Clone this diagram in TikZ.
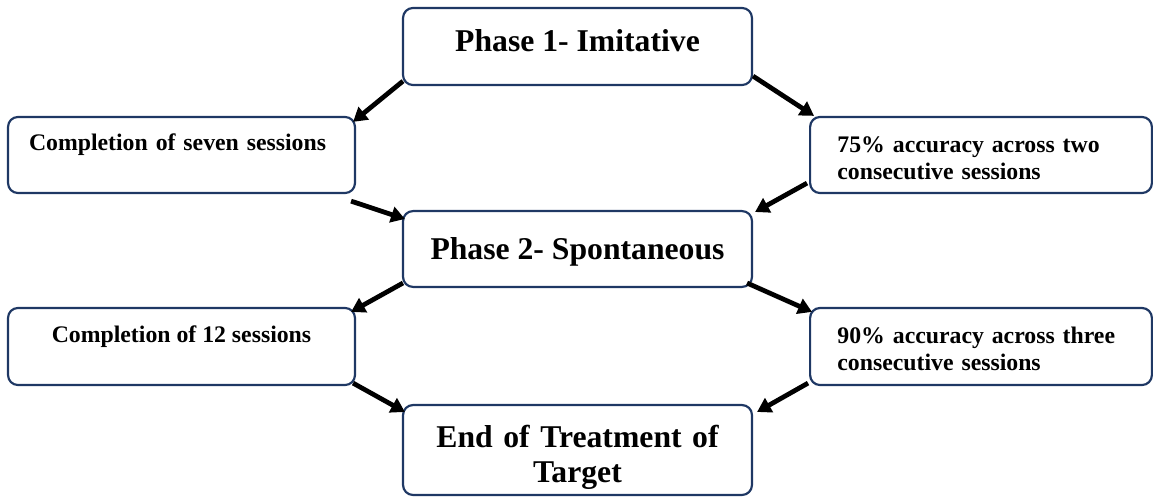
\documentclass[tikz,border=0pt]{standalone}
\usepackage{fontspec}
\setmainfont{Liberation Serif}
\usepackage{tikz}
\usetikzlibrary{calc}
\usetikzlibrary{arrows.meta}
\definecolor{navyline}{HTML}{1F3864}

\newcommand{\bigbf}{\fontsize{16}{17.7}\selectfont\bfseries}
\newcommand{\smallbf}{\fontsize{12}{14}\selectfont\bfseries}

\begin{document}
\begin{tikzpicture}[x=0.505pt,y=-0.505pt,
    boxn/.style={draw=navyline,line width=1.1pt,rounded corners=5pt,inner sep=0pt},
    phasen/.style={boxn,minimum width=176.2pt,font=\bigbf},
    critn/.style={boxn,minimum width=175.2pt,font=\smallbf},
    accn/.style={boxn,text width=145pt,inner xsep=13.8pt,align=left,font=\smallbf},
    stepa/.style={-{Triangle[length=7pt,width=8pt]},line width=2.4pt,black}]
  \useasboundingbox (0,0) rectangle (1155,497);
  % phases
  \node[phasen,text height=22.2pt,text depth=16.7pt] (ph1) at (577.5,46.5) {Phase 1- Imitative};
  \node[phasen,text height=24.7pt,text depth=13.6pt] (ph2) at (577.5,249) {Phase 2- Spontaneous};
  \node[phasen,text width=176.2pt,align=center,text height=21.2pt,text depth=24.2pt]
    (end) at (577.5,450) {End of Treatment of\\Target};
  % criteria
  \node[critn,text width=154pt,inner xsep=10.6pt,align=left,text height=16.7pt,text depth=21.7pt]
    (c7) at (181.5,155) {Completion of seven sessions};
  \node[critn,text height=17.2pt,text depth=21.7pt] (c12) at (181.5,346.5) {Completion of 12 sessions};
  \node[accn,text height=17.7pt,text depth=20.7pt] (a75) at (981,155)
    {75\% accuracy across two\\consecutive sessions};
  \node[accn,text height=17.7pt,text depth=21.2pt] (a90) at (981,346.5)
    {90\% accuracy across three\\consecutive sessions};
  % arrows
  \draw[stepa] ($(ph1.south west)+(1,-5)$) -- ($(c7.north east)+(-3,6)$);
  \draw[stepa] ($(ph1.south east)+(0,-10)$) -- ($(a75.north west)+(5,0)$);
  \draw[stepa] ($(c7.south east)+(-5,7)$) -- ($(ph2.north west)+(3,9)$);
  \draw[stepa] ($(a75.south west)+(-2,-11)$) -- ($(ph2.north east)+(2,2)$);
  \draw[stepa] ($(ph2.south west)+(1,-5)$) -- ($(c12.north east)+(-5,5)$);
  \draw[stepa] ($(ph2.south east)+(-6,-5)$) -- ($(a90.north west)+(3,5)$);
  \draw[stepa] ($(c12.south east)+(-3,-3)$) -- ($(end.north west)+(3,8)$);
  \draw[stepa] ($(a90.south west)+(-1,-3)$) -- ($(end.north east)+(4,8)$);
\end{tikzpicture}
\end{document}
